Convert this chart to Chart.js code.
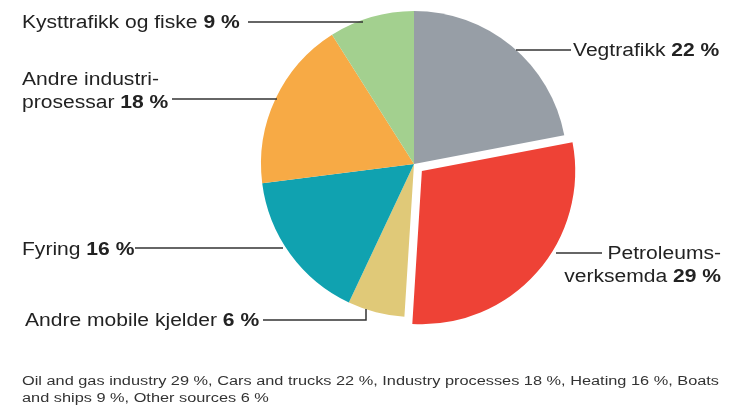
<!DOCTYPE html>
<html>
<head>
<meta charset="utf-8">
<script src="https://cdn.jsdelivr.net/npm/chart.js@4"></script>
<style>
  html, body { margin: 0; padding: 0; background: #fff; }
  canvas { display: block; }
</style>
</head>
<body>
<canvas id="pie" width="738" height="409"></canvas>
<script>
// ---------------------------------------------------------------------------
// Daten (Reihenfolge: im Uhrzeigersinn ab 12 Uhr)
// ---------------------------------------------------------------------------
const sliceNames = [
    ["Vegtrafikk"],
    ["Petroleums-", "verksemda"],
    ["Andre mobile kjelder"],
    ["Fyring"],
    ["Andre industri-", "prosessar"],
    ["Kysttrafikk og fiske"]
];
const sliceValues = [22, 29, 6, 16, 18, 9];
const sliceColors = ["#979ea6", "#ee4236", "#e0c978", "#10a2b0", "#f7aa45", "#a3d08f"];
const sliceOffsets = [0, 42, 0, 0, 0, 0];

const captionLines = [
    "Oil and gas industry 29 %, Cars and trucks 22 %, Industry processes 18 %, Heating 16 %, Boats",
    "and ships 9 %, Other sources 6 %"
];

// ---------------------------------------------------------------------------
// Layout der Beschriftungen (Textposition + Führungslinie)
// ---------------------------------------------------------------------------
const labelLayout = [
    { x: 573, y: 56,  align: "left",  line: [[516, 50], [571, 50]] },
    { x: 721, y: 259, align: "right", line: [[556, 253], [602, 253]] },
    { x: 25,  y: 326, align: "left",  line: [[263, 320], [366, 320], [366, 309]] },
    { x: 22,  y: 255, align: "left",  line: [[135, 248], [283, 248]] },
    { x: 22,  y: 85,  align: "left",  line: [[172, 99], [277, 99]] },
    { x: 22,  y: 28,  align: "left",  line: [[248, 22], [363, 22]] }
];

const FONT = '"Liberation Sans", Arial, sans-serif';
const SCALE_X = 1.17;
const LINE_H = 23;

function drawParts(ctx, parts, x, y, align) {
    // Breite messen (mit horizontaler Streckung)
    let w = 0;
    for (const p of parts) {
        ctx.font = (p.bold ? "bold " : "") + "18px " + FONT;
        w += ctx.measureText(p.t).width;
    }
    let cx = align === "right" ? x - w * SCALE_X : x;
    ctx.save();
    ctx.translate(cx, y);
    ctx.scale(SCALE_X, 1);
    let px = 0;
    for (const p of parts) {
        ctx.font = (p.bold ? "bold " : "") + "18px " + FONT;
        ctx.fillText(p.t, px, 0);
        px += ctx.measureText(p.t).width;
    }
    ctx.restore();
}

const labelPlugin = {
    id: "labels",
    afterDraw(chart) {
        const ctx = chart.ctx;
        ctx.save();
        ctx.fillStyle = "#222";
        ctx.textBaseline = "alphabetic";
        ctx.textAlign = "left";

        sliceNames.forEach((name, i) => {
            const lay = labelLayout[i];
            name.forEach((ln, k) => {
                const last = k === name.length - 1;
                const parts = [{ t: ln, bold: false }];
                if (last) parts.push({ t: " " + sliceValues[i] + " %", bold: true });
                drawParts(ctx, parts, lay.x, lay.y + k * LINE_H, lay.align);
            });

            ctx.beginPath();
            ctx.strokeStyle = "#333";
            ctx.lineWidth = 1.5;
            lay.line.forEach((pt, k) => {
                if (k === 0) ctx.moveTo(pt[0], pt[1]);
                else ctx.lineTo(pt[0], pt[1]);
            });
            ctx.stroke();
        });

        // Fußzeile
        ctx.fillStyle = "#333";
        ctx.font = "12px " + FONT;
        const capScale = 697 / ctx.measureText(captionLines[0]).width;
        captionLines.forEach((ln, k) => {
            ctx.save();
            ctx.translate(22, 385 + k * 17);
            ctx.scale(capScale, 1);
            ctx.fillText(ln, 0, 0);
            ctx.restore();
        });
        ctx.restore();
    }
};

new Chart(document.getElementById("pie"), {
    type: "pie",
    data: {
        labels: sliceNames.map(n => n.join(" ")),
        datasets: [{
            data: sliceValues,
            backgroundColor: sliceColors,
            offset: sliceOffsets,
            borderWidth: 0
        }]
    },
    options: {
        responsive: false,
        animation: false,
        radius: 153,
        layout: { padding: { left: 250, right: 160, top: 0, bottom: 81 } },
        plugins: {
            legend: { display: false },
            tooltip: { enabled: false },
            title: { display: false }
        }
    },
    plugins: [labelPlugin]
});
</script>
</body>
</html>
